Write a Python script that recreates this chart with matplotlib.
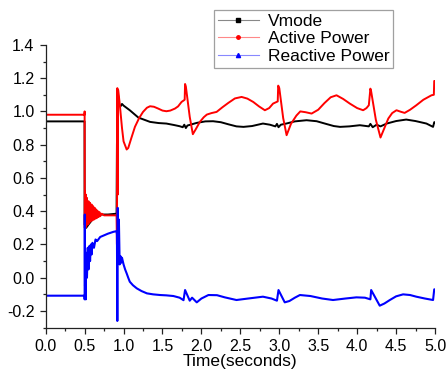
import matplotlib
matplotlib.use("Agg")
import matplotlib.pyplot as plt
from matplotlib.lines import Line2D

plt.rcParams['font.family'] = ['Liberation Sans', 'DejaVu Sans']

# Vmode (black)
t_v = [0, 0.499, 0.5, 0.52, 0.55, 0.6, 0.65, 0.7, 0.8, 0.91, 0.915, 0.925, 0.94, 0.96, 0.98,
       1.0, 1.08, 1.19, 1.34, 1.45, 1.55, 1.65, 1.72, 1.76, 1.78, 1.80, 1.82, 1.94, 2.05, 2.15,
       2.25, 2.35, 2.45, 2.54, 2.65, 2.79, 2.88, 2.95, 2.97, 2.99, 3.02, 3.09, 3.2, 3.35, 3.48,
       3.6, 3.7, 3.78, 3.9, 4.035, 4.15, 4.17, 4.2, 4.25, 4.3, 4.38, 4.5, 4.63, 4.75, 4.89,
       4.975, 4.99, 5.0]
v_mode = [0.94, 0.94, 0.32, 0.30, 0.32, 0.35, 0.37, 0.38, 0.38, 0.385, 0.8, 1.12, 1.04, 1.03, 1.045,
          1.035, 1.007, 0.963, 0.937, 0.93, 0.927, 0.918, 0.911, 0.905, 0.92, 0.90, 0.915, 0.931, 0.94, 0.941,
          0.935, 0.922, 0.91, 0.907, 0.912, 0.927, 0.92, 0.91, 0.925, 0.905, 0.92, 0.927, 0.94, 0.947, 0.941,
          0.925, 0.912, 0.907, 0.91, 0.917, 0.91, 0.925, 0.905, 0.92, 0.91, 0.927, 0.942, 0.951, 0.942, 0.927,
          0.907, 0.935, 0.935]

# Active Power (red)
t_p = [0, 0.499, 0.5, 0.502, 0.505, 0.51, 0.515, 0.52, 0.53, 0.54, 0.55, 0.56, 0.57, 0.58, 0.59,
       0.60, 0.61, 0.62, 0.63, 0.64, 0.65, 0.66, 0.67, 0.68, 0.69, 0.70, 0.72, 0.75, 0.8, 0.91,
       0.915, 0.92, 0.925, 0.93, 0.95, 0.98, 1.00, 1.04, 1.06, 1.10, 1.146, 1.20, 1.25, 1.30, 1.34,
       1.39, 1.445, 1.50, 1.55, 1.60, 1.66, 1.70, 1.745, 1.785, 1.79, 1.80, 1.85, 1.89, 1.93, 1.98,
       2.03, 2.07, 2.13, 2.195, 2.27, 2.345, 2.43, 2.516, 2.59, 2.665, 2.74, 2.815, 2.87, 2.92, 2.98,
       2.986, 3.0, 3.05, 3.094, 3.15, 3.22, 3.27, 3.34, 3.415, 3.50, 3.58, 3.66, 3.735, 3.82, 3.906,
       4.0, 4.077, 4.12, 4.15, 4.17, 4.18, 4.24, 4.30, 4.35, 4.40, 4.45, 4.505, 4.56, 4.61, 4.68,
       4.76, 4.85, 4.955, 4.985, 4.99, 5.0]
p_active = [0.98, 0.98, 1.0, 0.3, 0.52, 0.30, 0.50, 0.31, 0.48, 0.32, 0.46, 0.33, 0.45, 0.34, 0.44,
            0.345, 0.43, 0.35, 0.42, 0.355, 0.41, 0.36, 0.40, 0.365, 0.395, 0.37, 0.385, 0.375, 0.375, 0.375,
            0.2, 1.14, 0.5, 1.13, 1.05, 0.90, 0.82, 0.771, 0.78, 0.84, 0.907, 0.96, 0.997, 1.022, 1.031,
            1.028, 1.017, 1.005, 1.001, 1.005, 1.017, 1.03, 1.057, 1.07, 1.165, 1.15, 0.967, 0.863, 0.895, 0.937,
            0.965, 0.981, 0.99, 0.997, 1.025, 1.051, 1.078, 1.087, 1.077, 1.057, 1.03, 1.007, 1.02, 1.047, 1.06,
            1.155, 1.14, 0.96, 0.857, 0.925, 0.975, 1.0, 0.995, 0.987, 1.01, 1.05, 1.085, 1.097, 1.075, 1.047,
            1.02, 1.007, 1.02, 1.037, 1.137, 1.12, 0.95, 0.843, 0.9, 0.957, 0.99, 1.007, 0.998, 0.991, 1.01,
            1.037, 1.07, 1.097, 1.10, 1.183, 1.183]

# Reactive Power (blue)
t_q = [0, 0.499, 0.5, 0.502, 0.505, 0.51, 0.515, 0.52, 0.53, 0.54, 0.55, 0.56, 0.57, 0.58, 0.59,
       0.60, 0.62, 0.64, 0.66, 0.70, 0.75, 0.80, 0.87, 0.91, 0.915, 0.92, 0.925, 0.93, 0.94, 0.95,
       0.96, 0.97, 0.98, 0.99, 1.00, 1.02, 1.04, 1.06, 1.08, 1.12, 1.17, 1.23, 1.30, 1.38, 1.47,
       1.55, 1.64, 1.72, 1.77, 1.79, 1.85, 1.88, 1.94, 2.0, 2.09, 2.2, 2.3, 2.45, 2.6, 2.79,
       2.9, 2.97, 2.99, 3.07, 3.13, 3.2, 3.265, 3.4, 3.55, 3.69, 3.85, 3.99, 4.1, 4.17, 4.18,
       4.29, 4.35, 4.42, 4.5, 4.59, 4.68, 4.76, 4.87, 4.975, 4.99, 5.0]
q_reactive = [-0.108, -0.108, -0.13, 0.38, -0.05, 0.12, -0.13, 0.15, 0.0, 0.18, 0.05, 0.19, 0.10, 0.20, 0.14,
              0.21, 0.18, 0.23, 0.22, 0.245, 0.255, 0.265, 0.276, 0.28, 0.26, -0.26, 0.42, 0.10, 0.35, 0.08,
              0.13, 0.09, 0.12, 0.10, 0.08, 0.05, 0.026, 0.0, -0.024, -0.045, -0.064, -0.08, -0.094, -0.1, -0.104,
              -0.106, -0.11, -0.12, -0.135, -0.074, -0.138, -0.12, -0.148, -0.125, -0.104, -0.105, -0.118, -0.134, -0.125, -0.114,
              -0.125, -0.138, -0.074, -0.148, -0.14, -0.12, -0.104, -0.11, -0.125, -0.134, -0.125, -0.118, -0.12, -0.13, -0.074,
              -0.168, -0.155, -0.134, -0.112, -0.1, -0.104, -0.114, -0.125, -0.134, -0.07, -0.07]

labels = ["Vmode", "Active Power", "Reactive Power"]
x_ticks = [0.0, 0.5, 1.0, 1.5, 2.0, 2.5, 3.0, 3.5, 4.0, 4.5, 5.0]
y_ticks = [-0.2, 0.0, 0.2, 0.4, 0.6, 0.8, 1.0, 1.2, 1.4]

fig = plt.figure(figsize=(4.48, 3.74), dpi=100)
ax = fig.add_axes([0.102, 0.124, 0.869, 0.756])

ax.plot(t_v, v_mode, color='black', lw=1.4)
ax.plot(t_p, p_active, color='red', lw=1.4)
ax.plot(t_q, q_reactive, color='blue', lw=1.5)

ax.set_xlim(0, 5)
ax.set_ylim(-0.3, 1.4)
ax.set_xticks(x_ticks)
ax.set_xticklabels([f"{x:.1f}" for x in x_ticks])
ax.set_yticks(y_ticks)
ax.set_yticklabels([f"{y:.1f}" for y in y_ticks])
ax.set_xticks([x + 0.25 for x in x_ticks[:-1]], minor=True)
ax.set_yticks([-0.3] + [y + 0.1 for y in y_ticks[:-1]], minor=True)
ax.tick_params(which='major', direction='out', length=4.5, width=0.9, labelsize=11.5, colors='#222222')
ax.tick_params(which='minor', direction='out', length=2.5, width=0.9, colors='#222222')
for lab in ax.get_xticklabels() + ax.get_yticklabels():
    lab.set_color('black')
ax.spines['top'].set_visible(False)
ax.spines['right'].set_visible(False)
for s in ('left', 'bottom'):
    ax.spines[s].set_color('#222222')
    ax.spines[s].set_linewidth(0.9)
ax.set_xlabel("Time(seconds)", fontsize=12.5, labelpad=0)

handles = [
    Line2D([], [], color='#888888', lw=0.8, marker='s', markersize=2.5, markerfacecolor='black', markeredgecolor='black'),
    Line2D([], [], color='#ff8888', lw=0.8, marker='o', markersize=2.5, markerfacecolor='red', markeredgecolor='red'),
    Line2D([], [], color='#8888ff', lw=0.8, marker='^', markersize=3, markerfacecolor='blue', markeredgecolor='blue'),
]
leg = fig.legend(handles, labels, loc='upper left', bbox_to_anchor=(0.478, 0.973),
                 borderaxespad=0, fontsize=12.5, frameon=True, fancybox=False,
                 handlelength=2.4, handletextpad=0.5, labelspacing=0.15, borderpad=0.2)
leg.get_frame().set_edgecolor('#888888')
leg.get_frame().set_linewidth(0.9)

fig.savefig("out.png", dpi=100)
